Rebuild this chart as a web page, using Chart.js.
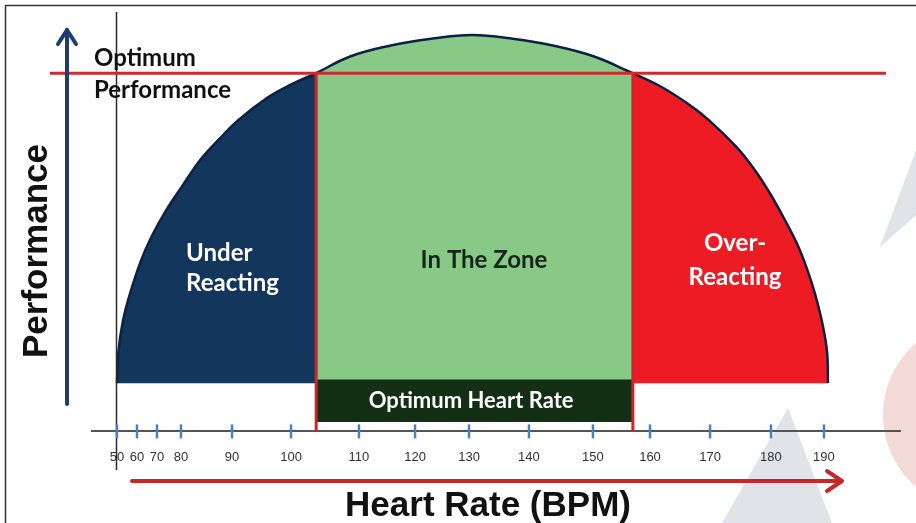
<!DOCTYPE html>
<html>
<head>
<meta charset="utf-8">
<script src="https://cdn.jsdelivr.net/npm/chart.js@4.4.1/dist/chart.umd.min.js"></script>
<style>
  html, body { margin: 0; padding: 0; background: #fff; }
  #wrap { width: 916px; height: 523px; }
</style>
</head>
<body>
<div id="wrap"><canvas id="zoneChart" width="916" height="523"></canvas></div>
<script>
// ---- data ----
const heartRates = [50, 60, 70, 80, 90, 100, 110, 120, 130, 140, 150, 160, 170, 180, 190];
const optimumPerformance = 83.5;
const zoneEdges = [103.7, 157];          // where the red lines drop
const optimumBand = [1, -10.5];          // top / bottom of the dark "Optimum Heart Rate" bar

// dome outline, split in three zones (heart rate / performance)
const underHr   = [50, 50.75, 53, 56.5, 62, 67.5, 73.75, 80.3, 83.7, 87.25, 91, 96.1, 99.8, 103.7];
const underPerf = [0, 8.6, 16.8, 24.1, 33, 39.7, 46.5, 53.2, 60, 65.4, 70.8, 77, 80.3, 83.5];
const zoneHr    = [103.7, 108.7, 115.5, 123, 130.5, 137.3, 143.9, 150.2, 157];
const zonePerf  = [83.5, 88, 90.9, 92.8, 93.8, 92.8, 90.9, 88, 83.5];
const overHr    = [157, 161.7, 166.2, 169.85, 174.4, 177.4, 179.85, 182.5, 184.9, 186.8, 188.3, 189.8, 190.6, 190.75];
const overPerf  = [83.5, 80, 75.4, 70.8, 63.5, 57.3, 51.1, 44.3, 37.6, 30.8, 24.1, 15.4, 8.1, 0];

// ---- axis layout: the ticks in the drawing are not evenly spaced ----
const axisValues = [37.5].concat(heartRates, [204.3]);
const axisStops  = [0, 0.0309, 0.0557, 0.0804, 0.1101, 0.1733, 0.2463, 0.3304,
                    0.3998, 0.4666, 0.5408, 0.6200, 0.6906, 0.7649, 0.8403, 0.9059, 1];

function toStop(v) {
  let i = 1;
  while (i < axisValues.length - 1 && v > axisValues[i]) i++;
  const v0 = axisValues[i - 1], v1 = axisValues[i];
  return axisStops[i - 1] + (v - v0) / (v1 - v0) * (axisStops[i] - axisStops[i - 1]);
}
function fromStop(f) {
  let i = 1;
  while (i < axisStops.length - 1 && f > axisStops[i]) i++;
  const f0 = axisStops[i - 1], f1 = axisStops[i];
  return axisValues[i - 1] + (f - f0) / (f1 - f0) * (axisValues[i] - axisValues[i - 1]);
}

class BentScale extends Chart.LinearScale {
  getPixelForValue(value) {
    return this.left + toStop(value) * this.width;
  }
  getValueForPixel(pixel) {
    return fromStop((pixel - this.left) / this.width);
  }
}
BentScale.id = 'bent';
BentScale.defaults = Chart.LinearScale.defaults;
Chart.register(BentScale);

function pts(xs, ys) {
  return xs.map((x, i) => ({ x: x, y: ys[i] }));
}

const NAVY = '#13365d';
const GREEN = '#88c988';
const RED = '#ed1c24';
const OUTLINE = '#0c2240';
const LINE_RED = '#cc2a2f';
const labelFont = 'Lato, "Open Sans", sans-serif';

// text and decorations drawn on top of the chart
const sketchPlugin = {
  id: 'sketch',
  beforeDraw(chart) {
    const ctx = chart.ctx;
    ctx.save();
    ctx.fillStyle = '#fff';
    ctx.fillRect(0, 0, chart.width, chart.height);
    // faded logo shapes in the background
    ctx.fillStyle = '#f4d9d9';
    ctx.beginPath(); ctx.arc(978, 415, 95, 0, Math.PI * 2); ctx.fill();
    ctx.fillStyle = '#e0e3e8';
    ctx.beginPath(); ctx.moveTo(788, 408); ctx.lineTo(832, 523); ctx.lineTo(722, 523); ctx.closePath(); ctx.fill();
    ctx.beginPath(); ctx.moveTo(916, 150); ctx.lineTo(916, 215); ctx.lineTo(880, 247); ctx.closePath(); ctx.fill();
    // frame
    ctx.strokeStyle = '#333';
    ctx.lineWidth = 1.5;
    ctx.beginPath(); ctx.moveTo(916, 5.5); ctx.lineTo(5.5, 5.5); ctx.lineTo(5.5, 523); ctx.stroke();
    ctx.restore();
  },
  afterDraw(chart) {
    const ctx = chart.ctx;
    const xs = chart.scales.x, ys = chart.scales.y;
    const axisY = chart.chartArea.bottom;
    ctx.save();

    // thin black vertical line at 50
    const x50 = Math.round(xs.getPixelForValue(50)) - 0.5;
    ctx.strokeStyle = '#2b2b2b';
    ctx.lineWidth = 1.5;
    ctx.beginPath(); ctx.moveTo(x50, 12); ctx.lineTo(x50, 470); ctx.stroke();

    // blue tick marks across the axis
    ctx.strokeStyle = '#4a80c4';
    ctx.lineWidth = 2.5;
    xs.ticks.forEach((t, i) => {
      const px = xs.getPixelForTick(i);
      ctx.beginPath(); ctx.moveTo(px, axisY - 7); ctx.lineTo(px, axisY + 7); ctx.stroke();
    });

    // optimum performance line
    const yOpt = ys.getPixelForValue(optimumPerformance);
    ctx.strokeStyle = LINE_RED;
    ctx.lineWidth = 3;
    ctx.beginPath(); ctx.moveTo(50, yOpt); ctx.lineTo(886, yOpt); ctx.stroke();

    // labels
    ctx.textBaseline = 'middle';
    ctx.fillStyle = '#111';
    ctx.font = 'bold 24px ' + labelFont;
    ctx.textAlign = 'left';
    ctx.fillText('Optimum', 94, yOpt - 15);
    ctx.fillText('Performance', 94, yOpt + 17);

    ctx.fillStyle = '#fff';
    ctx.fillText('Under', xs.getPixelForValue(81), ys.getPixelForValue(35.1));
    ctx.fillText('Reacting', xs.getPixelForValue(81), ys.getPixelForValue(26.8));

    ctx.textAlign = 'center';
    ctx.fillText('Over-', xs.getPixelForValue(174.1), ys.getPixelForValue(37.6));
    ctx.fillText('Reacting', xs.getPixelForValue(174.1), ys.getPixelForValue(28.4));

    ctx.fillStyle = '#16261a';
    ctx.fillText('In The Zone', xs.getPixelForValue(132.5), ys.getPixelForValue(33));

    ctx.fillStyle = '#fff';
    ctx.font = 'bold 22px ' + labelFont;
    ctx.fillText('Optimum Heart Rate', xs.getPixelForValue((zoneEdges[0] + zoneEdges[1]) / 2), ys.getPixelForValue((optimumBand[0] + optimumBand[1]) / 2));

    // axis arrows
    ctx.lineCap = 'round';
    ctx.lineJoin = 'round';
    ctx.strokeStyle = '#1c3d6d';
    ctx.lineWidth = 4;
    ctx.beginPath(); ctx.moveTo(67, 404); ctx.lineTo(67, 30); ctx.stroke();
    ctx.beginPath(); ctx.moveTo(58, 44); ctx.lineTo(67, 30); ctx.lineTo(76, 44); ctx.stroke();

    ctx.strokeStyle = '#c8262b';
    ctx.beginPath(); ctx.moveTo(132, 481); ctx.lineTo(841, 481); ctx.stroke();
    ctx.beginPath(); ctx.moveTo(827, 471); ctx.lineTo(842, 481); ctx.lineTo(827, 491); ctx.stroke();

    // axis titles
    ctx.fillStyle = '#111';
    ctx.font = 'bold 35px "Liberation Sans", Arial, sans-serif';
    ctx.textAlign = 'center';
    ctx.fillText('Heart Rate (BPM)', 488, 506);
    ctx.translate(37, 251);
    ctx.rotate(-Math.PI / 2);
    ctx.fillText('Performance', 0, 0);

    ctx.restore();
  }
};

const ctx = document.getElementById('zoneChart').getContext('2d');

const domeStyle = { borderColor: OUTLINE, borderWidth: 2.5, pointRadius: 0, fill: 'origin', tension: 0.4, order: 2 };

new Chart(ctx, {
  type: 'line',
  data: {
    datasets: [
      {
        label: 'Zone edge low',
        data: pts([zoneEdges[0], zoneEdges[0]], [optimumPerformance, -13]),
        borderColor: '#d3232a', borderWidth: 3, pointRadius: 0, fill: false, order: 0
      },
      {
        label: 'Zone edge high',
        data: pts([zoneEdges[1], zoneEdges[1]], [optimumPerformance, -13]),
        borderColor: '#d3232a', borderWidth: 3, pointRadius: 0, fill: false, order: 0
      },
      {
        label: 'Optimum Heart Rate',
        data: pts(zoneEdges, [optimumBand[0], optimumBand[0]]),
        borderWidth: 0, pointRadius: 0, backgroundColor: '#132f14',
        fill: { value: optimumBand[1] }, order: 1
      },
      Object.assign({ label: 'Under Reacting', data: pts(underHr, underPerf), backgroundColor: NAVY }, domeStyle),
      Object.assign({ label: 'In The Zone', data: pts(zoneHr, zonePerf), backgroundColor: GREEN }, domeStyle),
      Object.assign({ label: 'Over-Reacting', data: pts(overHr, overPerf), backgroundColor: RED }, domeStyle)
    ]
  },
  options: {
    responsive: false,
    animation: false,
    devicePixelRatio: 1,
    layout: { padding: { left: 92, right: 16, top: 12, bottom: 48 } },
    plugins: {
      legend: { display: false },
      tooltip: { enabled: false }
    },
    scales: {
      x: {
        type: 'bent',
        position: 'bottom',
        min: axisValues[0],
        max: axisValues[axisValues.length - 1],
        afterBuildTicks: s => { s.ticks = heartRates.map(v => ({ value: v })); },
        grid: { display: false },
        border: { display: true, color: '#555', width: 2 },
        ticks: {
          autoSkip: false,
          maxRotation: 0,
          padding: 10,
          color: '#333',
          font: { family: '"Liberation Sans", Arial, sans-serif', size: 13 },
          callback: v => String(v)
        }
      },
      y: {
        type: 'linear',
        display: false,
        min: -13,
        max: 100
      }
    }
  },
  plugins: [sketchPlugin]
});
</script>
</body>
</html>
